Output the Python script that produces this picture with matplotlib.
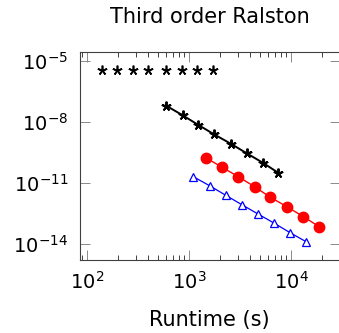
import numpy as np
import matplotlib
matplotlib.use("Agg")
import matplotlib.pyplot as plt
from matplotlib.ticker import LogLocator, NullLocator, FixedLocator

# runtime (s) vs error
star_flat_t = [139, 198, 281, 399, 591, 847, 1205, 1730]
star_flat_err = [3.4e-6] * 8

star_t = [596, 867, 1233, 1758, 2565, 3681, 5284, 7499]
star_err = [6.1e-8, 2.05e-8, 6.9e-9, 2.4e-9, 8.3e-10, 2.8e-10, 9.7e-11, 3.1e-11]

red_t = [1459, 2109, 3044, 4436, 6223, 9078, 13220, 18840]
red_err = [1.71e-10, 5.8e-11, 2.0e-11, 6.25e-12, 2.0e-12, 6.8e-13, 2.2e-13, 7.1e-14]

blue_t = [1102, 1607, 2291, 3289, 4779, 6855, 9772, 14030]
blue_err = [2.0e-11, 7.0e-12, 2.45e-12, 8.5e-13, 2.9e-13, 1.04e-13, 3.6e-14, 1.3e-14]

yticks = [1e-5, 1e-8, 1e-11, 1e-14]

plt.rcParams['font.family'] = ['DejaVu Sans']
plt.rcParams['mathtext.fontset'] = 'dejavusans'

fig = plt.figure(figsize=(3.39, 3.33), dpi=100)
ax = fig.add_axes([80/339, 1-260/333, 260/339, (260-51.7)/333])

star = (5, 2, 0)
ax.plot(star_flat_t, star_flat_err, linestyle='none', marker=star, color='black',
        markersize=7, markeredgewidth=1.2)
ax.plot(star_t, star_err, '-', marker=star, color='black', linewidth=1.4,
        markersize=7, markeredgewidth=1.4)
ax.plot(red_t, red_err, '-', marker='o', color='#ff0000', linewidth=1.0,
        markersize=7.5)
ax.plot(blue_t, blue_err, '-', marker='^', color='#0000ff', linewidth=0.9,
        markersize=5.5, markerfacecolor='white', markeredgewidth=0.9)

ax.set_xscale('log')
ax.set_yscale('log')
ax.set_xlim(85.3, 30200)
ax.set_ylim(10**-14.785, 10**-4.568)

ax.xaxis.set_major_locator(LogLocator(base=10, numticks=10))
ax.xaxis.set_minor_locator(LogLocator(base=10, subs=np.arange(2, 10), numticks=10))
ax.yaxis.set_major_locator(FixedLocator(yticks))
ax.yaxis.set_minor_locator(NullLocator())

ax.tick_params(which='major', direction='in', length=7.5, width=0.7, color='#8a8a8a',
               top=True, right=True, labelsize=14)
ax.tick_params(which='minor', direction='in', length=3.6, width=0.7, color='#404040',
               top=True, right=True)
ax.tick_params(axis='y', which='major', pad=8.5)
ax.tick_params(axis='x', which='major', pad=8)

for sp in ax.spines.values():
    sp.set_color('#404040')
    sp.set_linewidth(0.8)

fig.text(209.5/339, 1-17/333, 'Third order Ralston', ha='center', va='center', fontsize=15)
fig.text(209.5/339, 1-320/333, 'Runtime (s)', ha='center', va='center', fontsize=15)

fig.savefig('out.png', dpi=100)
